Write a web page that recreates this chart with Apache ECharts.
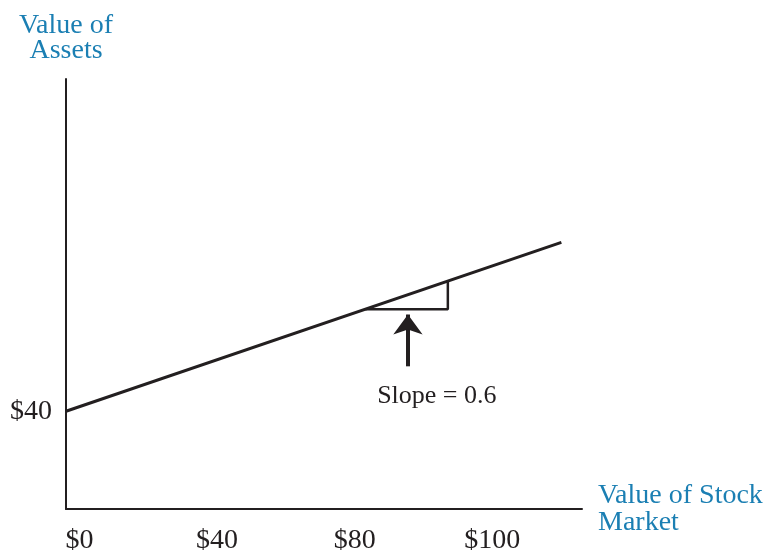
<!DOCTYPE html>
<html>
<head>
<meta charset="utf-8">
<script src="https://cdn.jsdelivr.net/npm/echarts@6/dist/echarts.min.js"></script>
<style>
html,body{margin:0;padding:0;background:#fff;}
#chart{width:766px;height:555px;}
</style>
</head>
<body>
<div id="chart"></div>
<script>
// ---- data ----
const xTickValues = [0, 40, 80, 120];
const xTickLabels = ['$0', '$40', '$80', '$100'];
const yTickValues = [40];
const yTickLabels = ['$40'];
const intercept = 40;
const slope = 0.6;
const lineX = [0, 144];
const lineY = [40, 126.4];
const triangleX = [87, 111, 111];
const triangleY = [92.2, 92.2, 106.6];
const arrowX = [99.4, 99.4];
const arrowY = [63, 89.5];
const slopeText = 'Slope = 0.6';
const slopeTextPos = [107.8, 47.7];
const xAxisName = 'Value of Stock\nMarket';
const yAxisName = 'Value of\nAssets';

const serif = 'Liberation Serif';
const ink = '#231f20';
const blue = '#1b7fb3';

const chart = echarts.init(document.getElementById('chart'), null, {renderer: 'canvas'});
chart.setOption({
  backgroundColor: '#fff',
  animation: false,
  grid: {left: 66, right: 184, top: 79, bottom: 45},
  xAxis: {
    type: 'value', min: 0, max: 150, interval: 40,
    splitLine: {show: false},
    axisTick: {show: false},
    axisLine: {onZero: false, lineStyle: {color: ink, width: 2}},
    axisLabel: {
      showMaxLabel: false,
      color: ink, fontFamily: serif, fontSize: 28, margin: 18,
      padding: [0, 0, 0, 27],
      formatter: v => { const i = xTickValues.indexOf(v); return i >= 0 ? xTickLabels[i] : ''; }
    },
    name: xAxisName, nameLocation: 'end', nameGap: 16,
    nameTextStyle: {color: blue, fontFamily: serif, fontSize: 28, lineHeight: 27, align: 'left', verticalAlign: 'middle', padding: [8, 0, 0, 0]}
  },
  yAxis: {
    type: 'value', min: -10, max: 210, interval: 10,
    splitLine: {show: false},
    axisTick: {show: false},
    axisLine: {onZero: false, lineStyle: {color: ink, width: 2}},
    axisLabel: {
      color: ink, fontFamily: serif, fontSize: 28, margin: 14,
      formatter: v => { const i = yTickValues.indexOf(v); return i >= 0 ? yTickLabels[i] : ''; }
    },
    name: yAxisName, nameLocation: 'end', nameGap: 16,
    nameTextStyle: {color: blue, fontFamily: serif, fontSize: 28, lineHeight: 25, align: 'center'}
  },
  series: [
    {
      type: 'line', symbol: 'none',
      data: lineX.map((x, i) => [x, lineY[i]]),
      lineStyle: {color: ink, width: 3}
    },
    {
      type: 'line', symbol: 'none',
      data: triangleX.map((x, i) => [x, triangleY[i]]),
      lineStyle: {color: ink, width: 2.5},
      markLine: {
        silent: true,
        symbol: ['none', 'arrow'],
        symbolSize: [22, 20],
        label: {show: false},
        lineStyle: {color: ink, width: 4, type: 'solid'},
        data: [[{coord: [arrowX[0], arrowY[0]]}, {coord: [arrowX[1], arrowY[1]]}]]
      }
    },
    {
      type: 'scatter', symbolSize: 0,
      data: [slopeTextPos],
      itemStyle: {color: ink, opacity: 1},
      label: {show: true, position: 'inside', formatter: slopeText, color: ink, textBorderWidth: 0, fontFamily: serif, fontSize: 26}
    }
  ]
});
</script>
</body>
</html>
